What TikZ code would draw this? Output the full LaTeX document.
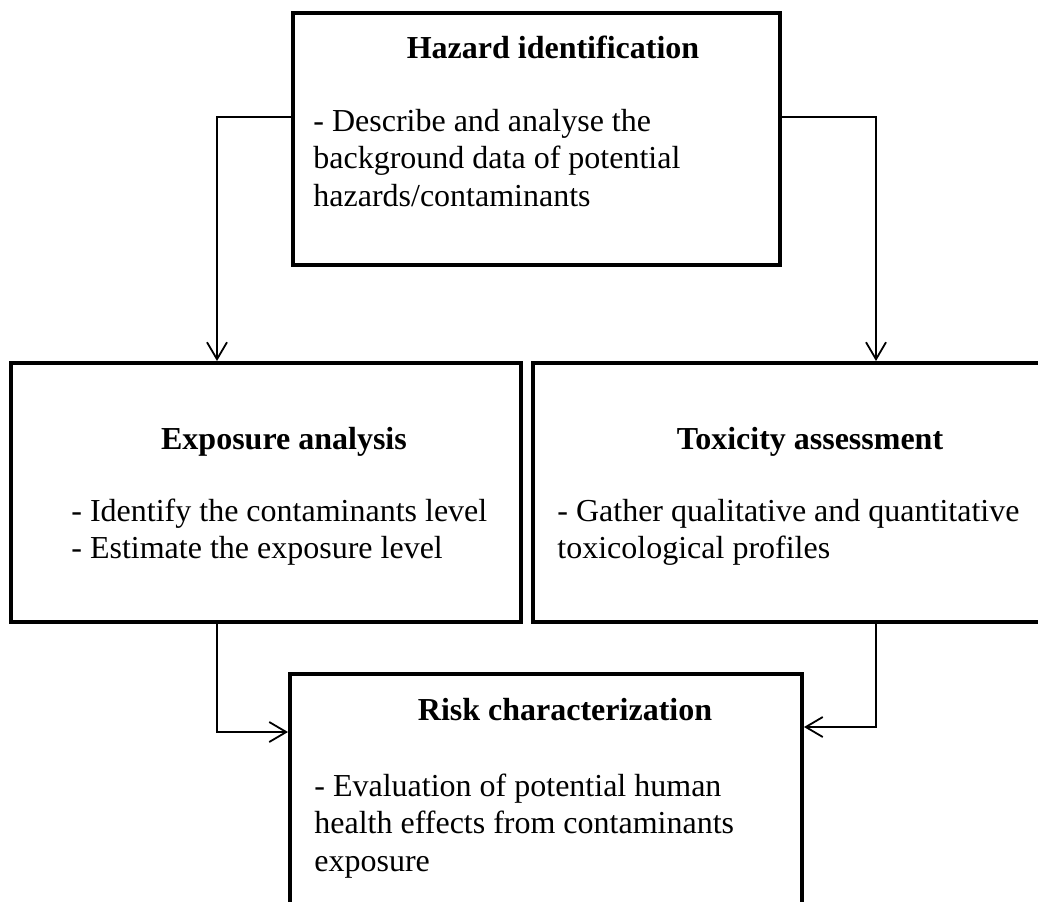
\documentclass[tikz,border=0pt]{standalone}
\usepackage{fontspec}
\setmainfont{Liberation Serif}
\usetikzlibrary{calc,arrows.meta}

\begin{document}
\begin{tikzpicture}[x=0.5pt,y=-0.5pt,
  box/.style={draw,line width=2pt,rectangle,inner sep=0pt},
  boxtitle/.style={font=\fontsize{16}{18.75}\selectfont\bfseries,anchor=base,inner sep=0pt},
  boxtext/.style={font=\fontsize{16}{18.75}\selectfont,align=left,anchor=base west,inner sep=0pt},
  flow/.style={line width=0.65pt,-{Straight Barb[length=8.5pt,width=10pt,line width=0.9pt]}}]

% the page
\useasboundingbox (0,0) rectangle (1038,901);
\clip (0,0) rectangle (1038,901);

% the four boxes
\node[box,minimum width=243.5pt,minimum height=126pt] (hazard) at (536.5,139) {};
\node[box,minimum width=255pt,minimum height=129.5pt] (expo) at (265.5,492.5) {};
\node[box,minimum width=257pt,minimum height=129.5pt] (tox) at (790,492.5) {};
\node[box,minimum width=256pt,minimum height=129.5pt] (risk) at (546,803.5) {};

% titles
\node[boxtitle] (hazardT) at (553,58) {Hazard identification};
\node[boxtitle] (expoT) at (284,449) {Exposure analysis};
\node[boxtitle] (toxT) at (810,449) {Toxicity assessment};
\node[boxtitle] (riskT) at (565,720) {Risk characterization};

% texts (placed at the baseline of their last line)
\node[boxtext] (hazardB) at (313,206) {- Describe and analyse the\\background data of potential\\hazards/contaminants};
\node[boxtext] (expoB) at (71,558.5) {- Identify the contaminants level\\- Estimate the exposure level};
\node[boxtext] (toxB) at (557,558.5) {- Gather qualitative and quantitative\\toxicological profiles};
\node[boxtext] (riskB) at (314,871) {- Evaluation of potential human\\health effects from contaminants\\exposure};

% corners of the arrows
\coordinate (hl) at (217,117);
\coordinate (hr) at (876,117);
\coordinate (el) at (217,732);
\coordinate (tr) at (876,727);

\draw[flow] (hazard.west |- hl) -| (expo.north -| hl);
\draw[flow] (hazard.east |- hr) -| (tox.north -| hr);
\draw[flow] (expo.south -| el) |- (risk.west |- el);
\draw[flow] (tox.south -| tr) |- (risk.east |- tr);
\end{tikzpicture}
\end{document}
